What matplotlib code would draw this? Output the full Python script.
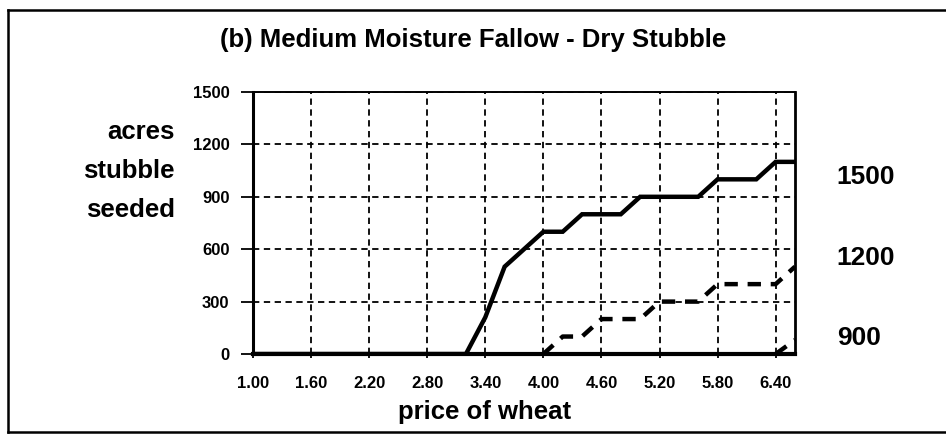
import matplotlib
matplotlib.use("Agg")
import matplotlib.pyplot as plt
from matplotlib.lines import Line2D

plt.rcParams['font.family'] = ['Liberation Sans', 'DejaVu Sans']
plt.rcParams['font.weight'] = 'bold'

# Data
price_solid = [1.0, 3.2, 3.4, 3.6, 4.0, 4.2, 4.4, 4.8, 5.0, 5.6, 5.8, 6.2, 6.4, 6.6]
acres_solid = [0, 0, 210, 500, 700, 700, 800, 800, 900, 900, 1000, 1000, 1100, 1100]

price_dash = [4.0, 4.2, 4.4, 4.6, 5.0, 5.2, 5.6, 5.8, 6.4, 6.6]
acres_dash = [0, 100, 100, 200, 200, 300, 300, 400, 400, 500]

price_dash2 = [6.4, 6.6]
acres_dash2 = [0, 80]

x_ticks = [1.0, 1.6, 2.2, 2.8, 3.4, 4.0, 4.6, 5.2, 5.8, 6.4]
y_ticks = [0, 300, 600, 900, 1200, 1500]
right_ticks = [900, 1200, 1500]

W, H = 946, 438
fig = plt.figure(figsize=(W / 100, H / 100), dpi=100)

# axes box in pixels: left 253, right 795, top 92, bottom 354
ax = fig.add_axes([253 / W, (H - 354) / H, 542 / W, 262 / H])

ax.plot(price_solid, acres_solid, color='black', lw=3.2, solid_joinstyle='miter', zorder=4)
ax.plot(price_dash, acres_dash, color='black', lw=3.2, dashes=(3, 2.2), zorder=4)
ax.plot(price_dash2, acres_dash2, color='black', lw=3.2, dashes=(3, 2.2), zorder=4)

ax.set_xlim(1.0, 6.6)
ax.set_ylim(0, 1500)
ax.set_xticks(x_ticks)
ax.set_xticklabels([f"{v:.2f}" for v in x_ticks])
ax.set_yticks(y_ticks)

ax.grid(True, color='black', lw=1.3, linestyle=(0, (3.5, 2.5)))
ax.tick_params(axis='y', direction='out', length=9, width=1.3, labelsize=12, pad=8)
ax.tick_params(axis='x', direction='out', length=3, width=1.3, labelsize=12, pad=13)

ax.spines['left'].set_linewidth(2.2)
ax.spines['bottom'].set_linewidth(3.0)
ax.spines['top'].set_linewidth(1.4)
ax.spines['right'].set_linewidth(2.0)

# secondary scale on the right (labels only)
ax2 = ax.twinx()
ax2.set_ylim(829, 1811)
ax2.set_yticks(right_ticks)
ax2.tick_params(axis='y', length=0, labelsize=19, pad=30)
for s in ax2.spines.values():
    s.set_visible(False)

fig.text(485 / W, (H - 412) / H, "price of wheat", ha='center', va='center',
         fontsize=18.5, fontweight='bold')

fig.text(175 / W, (H - 171) / H, "acres\nstubble\nseeded", ha='right', va='center',
         multialignment='right', fontsize=18.5, fontweight='bold', linespacing=1.78)

fig.text(473 / W, (H - 40) / H, "(b) Medium Moisture Fallow - Dry Stubble",
         ha='center', va='center', fontsize=18.5, fontweight='bold')

# outer frame (right edge is cut off in the original)
frame = dict(color='black', lw=1.8, transform=fig.transFigure)
fig.add_artist(Line2D([8 / W, 1.0], [(H - 10) / H, (H - 10) / H], **frame))
fig.add_artist(Line2D([8 / W, 8 / W], [(H - 10) / H, (H - 432) / H], **frame))
fig.add_artist(Line2D([8 / W, 1.0], [(H - 432) / H, (H - 432) / H], **frame))

fig.savefig("out.png", dpi=100)
